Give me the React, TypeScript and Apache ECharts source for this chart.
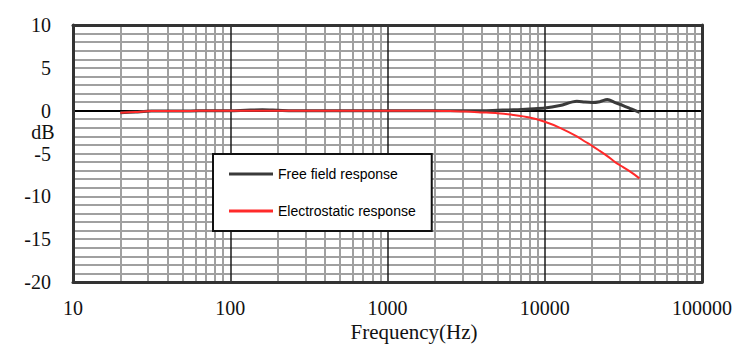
import React, { useEffect, useRef } from "react";
import * as echarts from "echarts";

const freqs = [20, 25, 31.5, 40, 50, 63, 80, 100, 125, 160, 200, 250, 315, 400, 500, 630, 800, 1000, 1250, 1600, 2000, 2500, 3150, 4000, 5000, 6300, 8000, 10000, 12500, 16000, 18000, 20000, 22400, 25000, 28000, 31500, 35500, 40000];

const electrostatic = [-0.25, -0.15, -0.05, -0.05, -0.05, 0, 0, 0, 0, 0, 0, 0, 0, 0, 0, 0, 0, 0, 0, 0, 0, -0.05, -0.1, -0.2, -0.3, -0.5, -0.8, -1.3, -2.0, -3.0, -3.6, -4.1, -4.7, -5.3, -6.0, -6.6, -7.2, -7.9];

const freeField = [-0.25, -0.15, -0.05, -0.05, -0.05, 0, 0, 0, 0.05, 0.1, 0.05, 0, 0, 0, 0, 0, 0, 0, 0, 0, 0, -0.02, 0, 0.0, 0.05, 0.1, 0.2, 0.3, 0.6, 1.1, 1.0, 0.95, 1.05, 1.3, 0.95, 0.6, 0.2, -0.2];

const minorFreqs = [20, 30, 40, 50, 60, 70, 80, 90, 200, 300, 400, 500, 600, 700, 800, 900, 2000, 3000, 4000, 5000, 6000, 7000, 8000, 9000, 20000, 30000, 40000, 50000, 60000, 70000, 80000, 90000];
const decadeFreqs = [100, 1000, 10000];

const seriesNames = ["Free field response", "Electrostatic response"];
const xTitle = "Frequency(Hz)";
const yTitle = "dB";

const frameLine = { show: true, onZero: false, lineStyle: { color: "#333", width: 3 } };

function frameX(position: string) {
  return {
    type: "log",
    logBase: 10,
    min: 10,
    max: 100000,
    position,
    z: 10,
    axisLine: frameLine,
    axisTick: { show: false },
    axisLabel: { show: false },
    splitLine: { show: false },
  };
}
function frameY(position: string) {
  return {
    type: "value",
    min: -20,
    max: 10,
    interval: 5,
    position,
    z: 10,
    axisLine: frameLine,
    axisTick: { show: false },
    axisLabel: { show: false },
    splitLine: { show: false },
  };
}

export default function App() {
  const ref = useRef<HTMLDivElement>(null);
  useEffect(() => {
    document.body.style.margin = "0";
    const chart = echarts.init(ref.current!, null, { renderer: "svg" });
    const labelFont = { fontFamily: "Liberation Serif", fontSize: 20, color: "#111" };
    const markBase = { silent: true, symbol: ["none", "none"], label: { show: false } };
    chart.setOption({
      animation: false,
      backgroundColor: "#fff",
      grid: { left: 73, top: 25, right: 44, bottom: 82 },
      xAxis: [
        {
          type: "log",
          logBase: 10,
          min: 10,
          max: 100000,
          position: "bottom",
          axisLine: { show: false, onZero: false },
          axisTick: { show: false },
          axisLabel: { ...labelFont, margin: 16, formatter: (v: number) => String(Math.round(v)) },
          splitLine: { show: false },
        },
        frameX("top"),
        frameX("bottom"),
      ],
      yAxis: [
        {
          type: "value",
          min: -20,
          max: 10,
          interval: 5,
          position: "left",
          axisLine: { show: false, onZero: false },
          axisTick: { show: false },
          axisLabel: { ...labelFont, margin: 22 },
          splitLine: { show: true, showMinLine: false, showMaxLine: false, lineStyle: { color: "#a0a0a0", width: 2 } },
          minorTick: { show: false, splitNumber: 5 },
          minorSplitLine: { show: true, lineStyle: { color: "#a0a0a0", width: 2 } },
        },
        frameY("right"),
        frameY("left"),
      ],
      legend: {
        left: 213,
        top: 154,
        z: 50,
        orient: "vertical",
        backgroundColor: "#fff",
        borderColor: "#111",
        borderWidth: 2,
        padding: [12, 16, 12, 16],
        itemGap: 21,
        itemWidth: 44,
        itemHeight: 3,
        icon: "rect",
        textStyle: { fontFamily: "Liberation Sans", fontSize: 14, color: "#000", lineHeight: 16 },
        data: [
          { name: seriesNames[0], itemStyle: { color: "#3a3a3a" } },
          { name: seriesNames[1], itemStyle: { color: "#ff2a2a" } },
        ],
      },
      graphic: [
        {
          type: "text",
          x: 43,
          y: 132,
          style: { text: yTitle, fontFamily: "Liberation Serif", fontSize: 20, fill: "#111", align: "center", verticalAlign: "middle" },
        },
        {
          type: "text",
          x: 414,
          y: 332,
          style: { text: xTitle, fontFamily: "Liberation Serif", fontSize: 21, fill: "#111", align: "center", verticalAlign: "middle" },
        },
      ],
      series: [
        {
          name: "gridMinor",
          type: "line",
          data: [],
          z: 1,
          silent: true,
          markLine: {
            ...markBase,
            z: 1,
            lineStyle: { color: "#a0a0a0", width: 2, type: "solid" },
            data: minorFreqs.map((f) => ({ xAxis: f })),
          },
        },
        {
          name: "gridMajor",
          type: "line",
          data: [],
          z: 2,
          silent: true,
          markLine: {
            ...markBase,
            z: 2,
            lineStyle: { color: "#1a1a1a", width: 1.5, type: "solid" },
            data: decadeFreqs.map((f) => ({ xAxis: f })),
          },
        },
        {
          name: "zeroLine",
          type: "line",
          data: [],
          z: 3,
          silent: true,
          markLine: {
            ...markBase,
            z: 3,
            lineStyle: { color: "#000", width: 2, type: "solid" },
            data: [{ yAxis: 0 }],
          },
        },
        {
          name: seriesNames[0],
          type: "line",
          z: 4,
          smooth: 0.3,
          showSymbol: false,
          itemStyle: { color: "#3a3a3a" },
          lineStyle: { color: "#3a3a3a", width: 3 },
          data: freqs.map((f, i) => [f, freeField[i]]),
        },
        {
          name: seriesNames[1],
          type: "line",
          z: 5,
          smooth: 0.3,
          showSymbol: false,
          itemStyle: { color: "#ff2a2a" },
          lineStyle: { color: "#ff2a2a", width: 2 },
          data: freqs.map((f, i) => [f, electrostatic[i]]),
        },
      ],
    });
    return () => chart.dispose();
  }, []);
  return <div ref={ref} style={{ width: 746, height: 364 }} />;
}
